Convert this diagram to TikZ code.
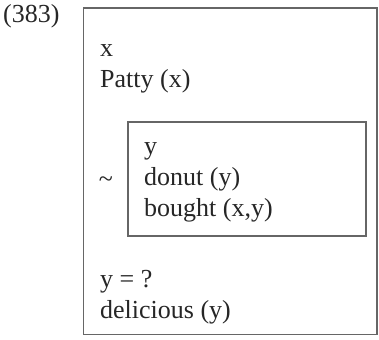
\documentclass[tikz,border=0pt]{standalone}
\usepackage{fontspec}
\setmainfont{Liberation Serif}
\begin{document}
\begin{tikzpicture}[x=1pt,y=-1pt,
  txt/.style={anchor=base west,inner sep=0pt,font=\fontsize{26}{31}\selectfont,text=black!85},
  boxline/.style={draw=black!60,line width=1.4pt}]
\useasboundingbox (0,0) rectangle (379,339);
\draw[boxline] (83.5,8) rectangle (377,334.5);
\draw[boxline] (128,122) rectangle (366,236);
\node[txt] (num) at (3,23) {(383)};
\node[txt] (x) at (100,57) {x};
\node[txt] (patty) at (100,88) {Patty (x)};
\node[txt,anchor=center] (neg) at (106,182) {\textasciitilde};
\node[txt] (y) at (144,154) {y};
\node[txt] (donut) at (144,185) {donut (y)};
\node[txt] (bought) at (144,216) {bought (x,y)};
\node[txt] (yq) at (100,287) {y = ?};
\node[txt] (del) at (100,318) {delicious (y)};
\end{tikzpicture}
\end{document}
